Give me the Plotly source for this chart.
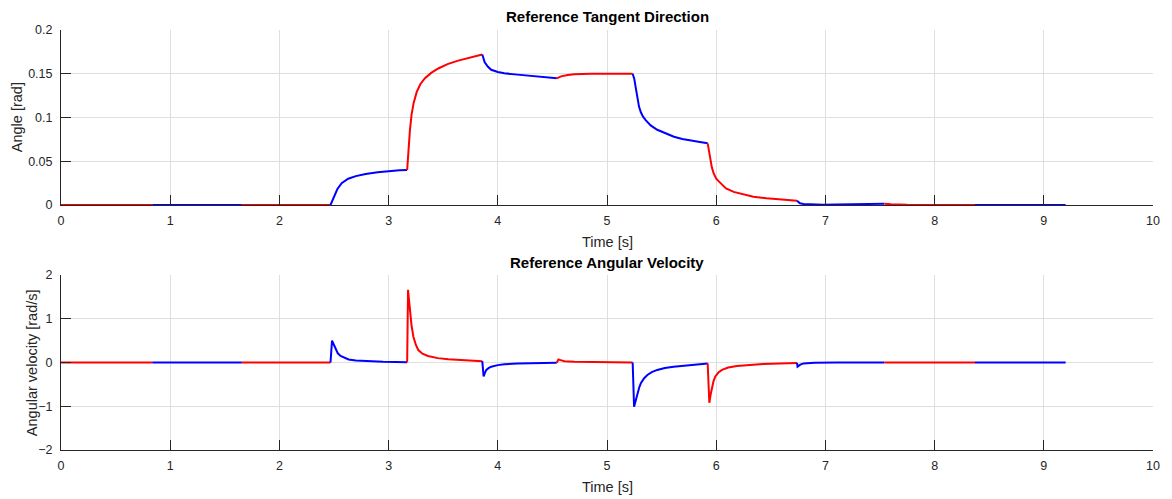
import plotly.graph_objects as go

# ---- data ----
segment_edges = [0, 0.836, 1.656, 2.468, 3.17, 3.858, 4.54, 5.235, 5.922, 6.74, 7.54, 8.37, 9.2]
segment_colors = ["red", "blue"] * 6

angle_t = [0, 0.836, 1.656, 2.468, 2.50, 2.53, 2.57, 2.63, 2.70, 2.79, 2.90, 3.00, 3.10, 3.17,
           3.18, 3.195, 3.21, 3.23, 3.257, 3.29, 3.333, 3.39, 3.455, 3.54, 3.637, 3.74, 3.858,
           3.88, 3.91, 3.94, 4.0, 4.06, 4.18, 4.30, 4.42, 4.54,
           4.58, 4.64, 4.70, 4.85, 5.0, 5.235,
           5.25, 5.262, 5.275, 5.293, 5.31, 5.33, 5.354, 5.40, 5.46, 5.53, 5.613, 5.69, 5.764, 5.85, 5.922,
           5.935, 5.946, 5.96, 5.977, 6.0, 6.04, 6.09, 6.16, 6.25, 6.34, 6.46, 6.584, 6.74,
           6.767, 6.80, 6.858, 6.98, 7.1, 7.3, 7.54,
           7.6, 7.75, 8.0, 8.37, 9.2]
angle_v = [0, 0, 0, 0, 0.010, 0.018, 0.025, 0.030, 0.033, 0.0355, 0.0375, 0.039, 0.0397, 0.040,
           0.060, 0.085, 0.103, 0.117, 0.129, 0.138, 0.145, 0.151, 0.156, 0.161, 0.165, 0.1685, 0.172,
           0.163, 0.158, 0.1545, 0.152, 0.1505, 0.149, 0.1475, 0.146, 0.1448,
           0.147, 0.1485, 0.1495, 0.150, 0.150, 0.150,
           0.144, 0.135, 0.123, 0.1125, 0.106, 0.101, 0.097, 0.091, 0.086, 0.082, 0.078, 0.0755, 0.0735, 0.072, 0.0705,
           0.062, 0.0515, 0.043, 0.036, 0.030, 0.025, 0.019, 0.015, 0.012, 0.0095, 0.0078, 0.0065, 0.0049,
           0.0019, 0.0012, 0.0008, 0.0002, 0.0005, 0.0010, 0.0015,
           0.0008, 0.0003, 0.0, 0.0, 0.0]

omega_t = [0, 0.836, 1.656, 2.468, 2.475, 2.482, 2.50, 2.515, 2.535, 2.56, 2.60, 2.634, 2.70, 2.79,
           2.95, 3.17,
           3.178, 3.19, 3.197, 3.21, 3.227, 3.25, 3.272, 3.31, 3.36, 3.45, 3.546, 3.70, 3.858,
           3.87, 3.885, 3.895, 3.915, 3.94, 4.0, 4.06, 4.18, 4.305, 4.54,
           4.555, 4.575, 4.61, 4.7, 4.85, 5.0, 5.235,
           5.248, 5.265, 5.28, 5.295, 5.31, 5.34, 5.37, 5.41, 5.46, 5.53, 5.61, 5.75, 5.922,
           5.937, 5.95, 5.962, 5.975, 5.992, 6.02, 6.053, 6.11, 6.19, 6.30, 6.43, 6.58, 6.74,
           6.745, 6.77, 6.8, 6.9, 7.1, 7.54, 8.37, 9.2]
omega_v = [0, 0, 0, 0, 0.30, 0.50, 0.40, 0.30, 0.21, 0.15, 0.10, 0.07, 0.045, 0.03,
           0.015, 0.008,
           1.66, 1.35, 1.12, 0.85, 0.59, 0.40, 0.285, 0.20, 0.15, 0.10, 0.073, 0.05, 0.03,
           -0.32, -0.22, -0.17, -0.13, -0.095, -0.06, -0.04, -0.025, -0.015, -0.005,
           0.07, 0.055, 0.03, 0.015, 0.008, 0.004, 0.0,
           -1.01, -0.85, -0.70, -0.57, -0.475, -0.36, -0.285, -0.22, -0.17, -0.125, -0.095, -0.055, -0.02,
           -0.92, -0.72, -0.55, -0.43, -0.32, -0.23, -0.17, -0.115, -0.08, -0.055, -0.035, -0.02, -0.01,
           -0.095, -0.05, -0.02, -0.008, 0.0, 0.0, 0.0, 0.0]

x_ticks = [0, 1, 2, 3, 4, 5, 6, 7, 8, 9, 10]
angle_ticks = [0, 0.05, 0.1, 0.15, 0.2]
angle_tick_text = ["0", "0.05", "0.1", "0.15", "0.2"]
omega_ticks = [-2, -1, 0, 1, 2]

# ---- figure ----
FONT = "Liberation Sans, Arial, Helvetica, sans-serif"
TXT = "#262626"
GRID = "#dfdfdf"
W, H = 1172, 499
ML, MR, MT, MB = 61, 14, 30, 49
PW, PH = W - ML - MR, H - MT - MB

fig = go.Figure()


def add_segments(ts, vs, xaxis, yaxis):
    for i in range(len(segment_edges) - 1):
        a, b = segment_edges[i], segment_edges[i + 1]
        xs = [t for t in ts if a <= t <= b]
        ys = [v for t, v in zip(ts, vs) if a <= t <= b]
        fig.add_trace(go.Scatter(x=xs, y=ys, mode="lines", xaxis=xaxis, yaxis=yaxis,
                                 line=dict(color=segment_colors[i], width=2),
                                 showlegend=False, hoverinfo="skip"))


add_segments(angle_t, angle_v, "x", "y")
add_segments(omega_t, omega_v, "x2", "y2")

axis_common = dict(showline=True, linecolor=TXT, linewidth=1, mirror=False,
                   ticks="inside", ticklen=10, tickcolor=TXT, tickwidth=1,
                   showgrid=True, gridcolor=GRID, gridwidth=1, zeroline=False,
                   tickfont=dict(family=FONT, size=12.5, color=TXT))


def py(p):  # pixel row -> paper y
    return (H - MB - p) / PH


def px(p):  # pixel column -> paper x
    return (p - ML) / PW


fig.update_layout(
    width=W, height=H,
    margin=dict(l=ML, r=MR, t=MT, b=MB),
    paper_bgcolor="white", plot_bgcolor="white",
    xaxis=dict(domain=[0, 1], anchor="y", range=[0, 10], tickvals=x_ticks,
               ticklabelstandoff=4, **axis_common),
    yaxis=dict(domain=[py(205), 1], anchor="x", range=[0, 0.2], tickvals=angle_ticks,
               ticktext=angle_tick_text, ticklabelstandoff=5, **axis_common),
    xaxis2=dict(domain=[0, 1], anchor="y2", range=[0, 10], tickvals=x_ticks,
                ticklabelstandoff=4, **axis_common),
    yaxis2=dict(domain=[0, py(275)], anchor="x2", range=[-2, 2], tickvals=omega_ticks,
                ticklabelstandoff=5, **axis_common),
)

ann = []
ann.append(dict(text="<b>Reference Tangent Direction</b>", x=0.5, y=py(16.5), xref="paper", yref="paper",
                showarrow=False, font=dict(family=FONT, size=15, color="black"), xanchor="center", yanchor="middle"))
ann.append(dict(text="<b>Reference Angular Velocity</b>", x=0.5, y=py(262), xref="paper", yref="paper",
                showarrow=False, font=dict(family=FONT, size=15, color="black"), xanchor="center", yanchor="middle"))
ann.append(dict(text="Time [s]", x=0.5, y=py(241.5), xref="paper", yref="paper",
                showarrow=False, font=dict(family=FONT, size=14.5, color=TXT), xanchor="center", yanchor="middle"))
ann.append(dict(text="Time [s]", x=0.5, y=py(487.5), xref="paper", yref="paper",
                showarrow=False, font=dict(family=FONT, size=14.5, color=TXT), xanchor="center", yanchor="middle"))
ann.append(dict(text="Angle [rad]", x=px(16.5), y=py(117.5), xref="paper", yref="paper", textangle=-90,
                showarrow=False, font=dict(family=FONT, size=14.5, color=TXT), xanchor="center", yanchor="middle"))
ann.append(dict(text="Angular velocity [rad/s]", x=px(31.5), y=py(362.5), xref="paper", yref="paper", textangle=-90,
                showarrow=False, font=dict(family=FONT, size=14.5, color=TXT), xanchor="center", yanchor="middle"))
fig.update_layout(annotations=ann)

fig.write_html("out.html")
